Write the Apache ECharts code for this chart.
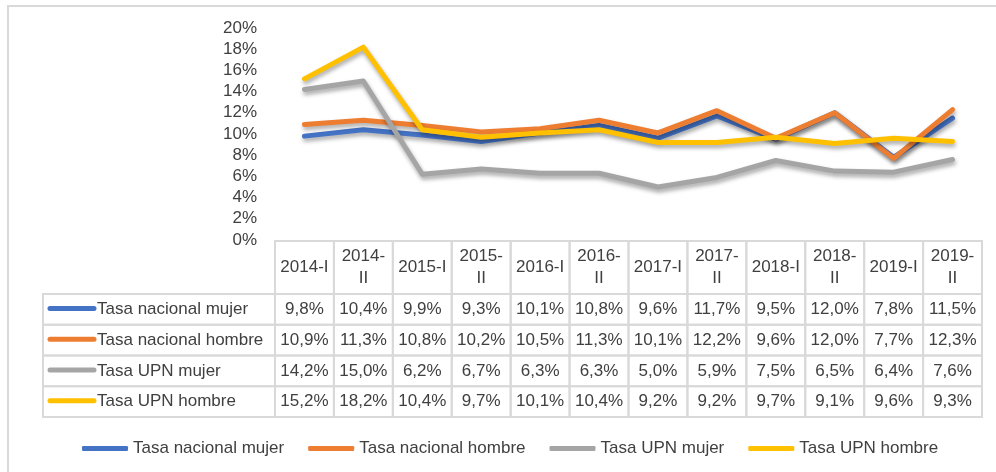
<!DOCTYPE html>
<html>
<head>
<meta charset="utf-8">
<title>Tasa de desempleo por sexo</title>
<script src="https://cdn.jsdelivr.net/npm/echarts@6/dist/echarts.min.js"></script>
<style>
  html, body { margin: 0; padding: 0; background: #ffffff; }
  #chart { width: 996px; height: 472px; }
</style>
</head>
<body>
<div id="chart"></div>
<script>
// Semesters on the category axis
const categories = ['2014-I', '2014-II', '2015-I', '2015-II', '2016-I', '2016-II',
                    '2017-I', '2017-II', '2018-I', '2018-II', '2019-I', '2019-II'];

// Rates in percent
const nacionalMujer  = [9.8, 10.4, 9.9, 9.3, 10.1, 10.8, 9.6, 11.7, 9.5, 12.0, 7.8, 11.5];
const nacionalHombre = [10.9, 11.3, 10.8, 10.2, 10.5, 11.3, 10.1, 12.2, 9.6, 12.0, 7.7, 12.3];
const upnMujer       = [14.2, 15.0, 6.2, 6.7, 6.3, 6.3, 5.0, 5.9, 7.5, 6.5, 6.4, 7.6];
const upnHombre      = [15.2, 18.2, 10.4, 9.7, 10.1, 10.4, 9.2, 9.2, 9.7, 9.1, 9.6, 9.3];

const seriesNames = ['Tasa nacional mujer', 'Tasa nacional hombre', 'Tasa UPN mujer', 'Tasa UPN hombre'];
const seriesData = [nacionalMujer, nacionalHombre, upnMujer, upnHombre];
const colors = ['#4472C4', '#ED7D31', '#A5A5A5', '#FFC000'];

// Y axis ticks
const yMin = 0, yMax = 20, yStep = 2;

const FONT = '"Liberation Sans", Arial, sans-serif';
const TEXT = '#404040';
const RULE = '#d9d9d9';

// Table geometry (below the plot)
const HEADER_H = 53;
const ROW_H = 30.75;
const TABLE_LEFT = 43;

function fmtPct(v) {
  return v.toFixed(1).replace('.', ',') + '%';
}
function fmtHeader(c) {
  // long semester labels wrap after the dash
  return c.endsWith('-II') ? c.slice(0, -2) + '\nII' : c;
}

const chart = echarts.init(document.getElementById('chart'), null, { renderer: 'canvas' });

const lineSeries = seriesNames.map((name, k) => ({
  name: name,
  type: 'line',
  data: seriesData[k],
  symbol: 'none',
  smooth: false,
  z: 2 + k,
  color: colors[k],
  lineStyle: {
    width: 5,
    color: colors[k],
    cap: 'round',
    join: 'round',
    shadowColor: 'rgba(0,0,0,0.35)',
    shadowBlur: 4,
    shadowOffsetX: 1,
    shadowOffsetY: 3
  },
  emphasis: { disabled: true }
}));

// Data table: one column per category, built on the category axis
const tableSeries = {
  type: 'custom',
  name: 'tabla',
  clip: false,
  silent: true,
  z: 1,
  data: categories.map((c, i) => [i, 0]),
  encode: { x: 0, y: 1 },
  renderItem: function (params, api) {
    const idx = params.dataIndex;
    const p = api.coord([idx, 0]);
    const bw = api.size([1, 0])[0];
    const x0 = p[0] - bw / 2;
    const top = p[1] + 1;
    const children = [];

    // header cell
    children.push({
      type: 'rect',
      shape: { x: x0, y: top, width: bw, height: HEADER_H },
      style: { fill: 'none', stroke: RULE, lineWidth: 2 }
    });
    children.push({
      type: 'text',
      style: {
        text: fmtHeader(categories[idx]),
        x: p[0], y: top + HEADER_H / 2,
        align: 'center', verticalAlign: 'middle',
        fontSize: 17, fontFamily: FONT, fill: TEXT, lineHeight: 22
      }
    });

    // value cells
    for (let r = 0; r < seriesData.length; r++) {
      const ry = top + HEADER_H + r * ROW_H;
      children.push({
        type: 'rect',
        shape: { x: x0, y: ry, width: bw, height: ROW_H },
        style: { fill: 'none', stroke: RULE, lineWidth: 2 }
      });
      children.push({
        type: 'text',
        style: {
          text: fmtPct(seriesData[r][idx]),
          x: p[0], y: ry + ROW_H / 2,
          align: 'center', verticalAlign: 'middle',
          fontSize: 17, fontFamily: FONT, fill: TEXT
        }
      });

      // row labels with legend keys, drawn once
      if (idx === 0) {
        children.push({
          type: 'rect',
          shape: { x: TABLE_LEFT, y: ry, width: x0 - TABLE_LEFT, height: ROW_H },
          style: { fill: 'none', stroke: RULE, lineWidth: 2 }
        });
        children.push({
          type: 'line',
          shape: { x1: TABLE_LEFT + 7, y1: ry + ROW_H / 2 - 1, x2: TABLE_LEFT + 51, y2: ry + ROW_H / 2 - 1 },
          style: { stroke: colors[r], lineWidth: 5, lineCap: 'round' }
        });
        children.push({
          type: 'text',
          style: {
            text: seriesNames[r],
            x: TABLE_LEFT + 54, y: ry + ROW_H / 2,
            align: 'left', verticalAlign: 'middle',
            fontSize: 17, fontFamily: FONT, fill: TEXT
          }
        });
      }
    }
    return { type: 'group', children: children };
  }
};

const option = {
  animation: false,
  backgroundColor: '#ffffff',
  color: colors,
  textStyle: { fontFamily: FONT, color: TEXT },
  graphic: [{
    type: 'rect',
    shape: { x: 8, y: 6, width: 1000, height: 500 },
    style: { fill: 'none', stroke: RULE, lineWidth: 2 },
    silent: true,
    z: -1
  }],
  grid: { left: 275, right: 14, top: 28, bottom: 232, containLabel: false },
  xAxis: {
    type: 'category',
    data: categories,
    boundaryGap: true,
    axisLine: { show: false },
    axisTick: { show: false },
    axisLabel: { show: false },
    splitLine: { show: false }
  },
  yAxis: {
    type: 'value',
    min: yMin,
    max: yMax,
    interval: yStep,
    axisLine: { show: false },
    axisTick: { show: false },
    splitLine: { show: false },
    axisLabel: {
      formatter: '{value}%',
      fontSize: 17,
      fontFamily: FONT,
      color: TEXT,
      margin: 18
    }
  },
  legend: {
    data: seriesNames,
    left: 77,
    top: 435,
    icon: 'roundRect',
    itemWidth: 46,
    itemHeight: 5,
    itemGap: 24,
    selectedMode: false,
    textStyle: { fontSize: 17, fontFamily: FONT, color: TEXT }
  },
  series: lineSeries.concat([tableSeries])
};

chart.setOption(option);
</script>
</body>
</html>
